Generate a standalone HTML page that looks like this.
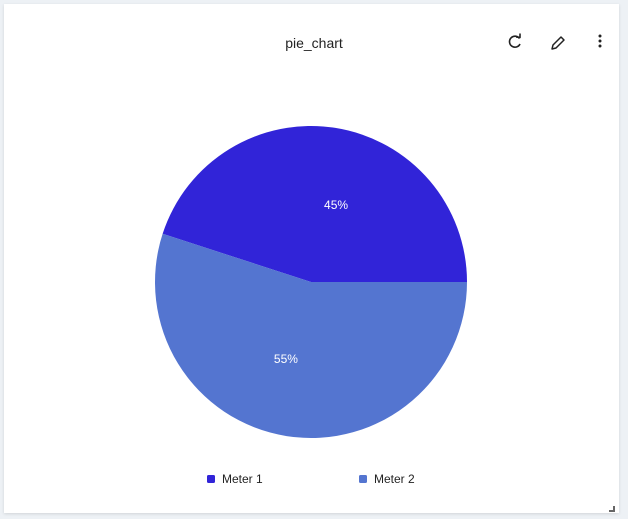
<!DOCTYPE html>
<html><head><meta charset="utf-8"><style>
body{margin:0;width:628px;height:519px;background:#edf1f5;font-family:"Liberation Sans",sans-serif;overflow:hidden;position:relative}
.card{position:absolute;left:4px;top:4px;width:615px;height:509px;background:#fff;box-shadow:0 1px 3px rgba(0,0,0,0.12)}
.title{position:absolute;left:0;top:35px;width:628px;text-align:center;font-size:14px;color:#222}
</style></head><body>
<div class="card"></div>
<div class="title">pie_chart</div>
<svg width="628" height="519" style="position:absolute;left:0;top:0">
<g fill="none" stroke="#222" stroke-width="1.6">
<path d="M519.5 38.5 A5.5 5.5 0 1 0 520 44"/><path d="M516 37 L520 37.5 L520 33.5" stroke-linejoin="round"/></g>
<g fill="none" stroke="#222" stroke-width="1.5" stroke-linejoin="round">
<path d="M552 49 L553 45 L561 37 L564 40 L556 48 Z"/></g>
<g fill="#222"><circle cx="600" cy="36" r="1.5"/><circle cx="600" cy="41" r="1.5"/><circle cx="600" cy="46" r="1.5"/></g>
<path d="M614 506 L614 511 L609 511" stroke="#666" stroke-width="2" fill="none"/>
<g id="pie"></g>
<g id="legend"></g>
</svg>
<script>
const categories=["Meter 1","Meter 2"];
const values=[45,55];
const colors=["#3124d8","#5475d0"];
const cx=311,cy=282,r=156,ns="http://www.w3.org/2000/svg";
const total=values.reduce((a,b)=>a+b,0);
const pie=document.getElementById('pie');
let a0=0;
values.forEach((v,i)=>{
  const a1=a0+v/total*2*Math.PI;
  const x0=cx+r*Math.cos(a0),y0=cy-r*Math.sin(a0),x1=cx+r*Math.cos(a1),y1=cy-r*Math.sin(a1);
  const p=document.createElementNS(ns,'path');
  p.setAttribute('d',`M${cx} ${cy} L${x0} ${y0} A${r} ${r} 0 ${a1-a0>Math.PI?1:0} 0 ${x1} ${y1} Z`);
  p.setAttribute('fill',colors[i]);
  
  
  pie.appendChild(p);
  const am=(a0+a1)/2-9*Math.PI/180;
  const t=document.createElementNS(ns,'text');
  t.setAttribute('x',cx+r*0.52*Math.cos(am));t.setAttribute('y',cy-r*0.52*Math.sin(am)+4);
  t.setAttribute('text-anchor','middle');t.setAttribute('fill','#fff');t.setAttribute('font-size','12');
  t.textContent=Math.round(v/total*100)+'%';
  
  
  pie.appendChild(t);
  a0=a1;
});
const lg=document.getElementById('legend');
categories.forEach((c,i)=>{
  const x=207+i*152;
  const g=document.createElementNS(ns,'g');
  
  
  const s=document.createElementNS(ns,'rect');
  s.setAttribute('x',x);s.setAttribute('y',475);s.setAttribute('width',8);s.setAttribute('height',8);s.setAttribute('rx',1.5);s.setAttribute('fill',colors[i]);
  const t=document.createElementNS(ns,'text');
  t.setAttribute('x',x+15);t.setAttribute('y',483);t.setAttribute('font-size','12');t.setAttribute('fill','#222');
  t.textContent=c;
  g.appendChild(s);g.appendChild(t);lg.appendChild(g);
});
</script>
</body></html>
